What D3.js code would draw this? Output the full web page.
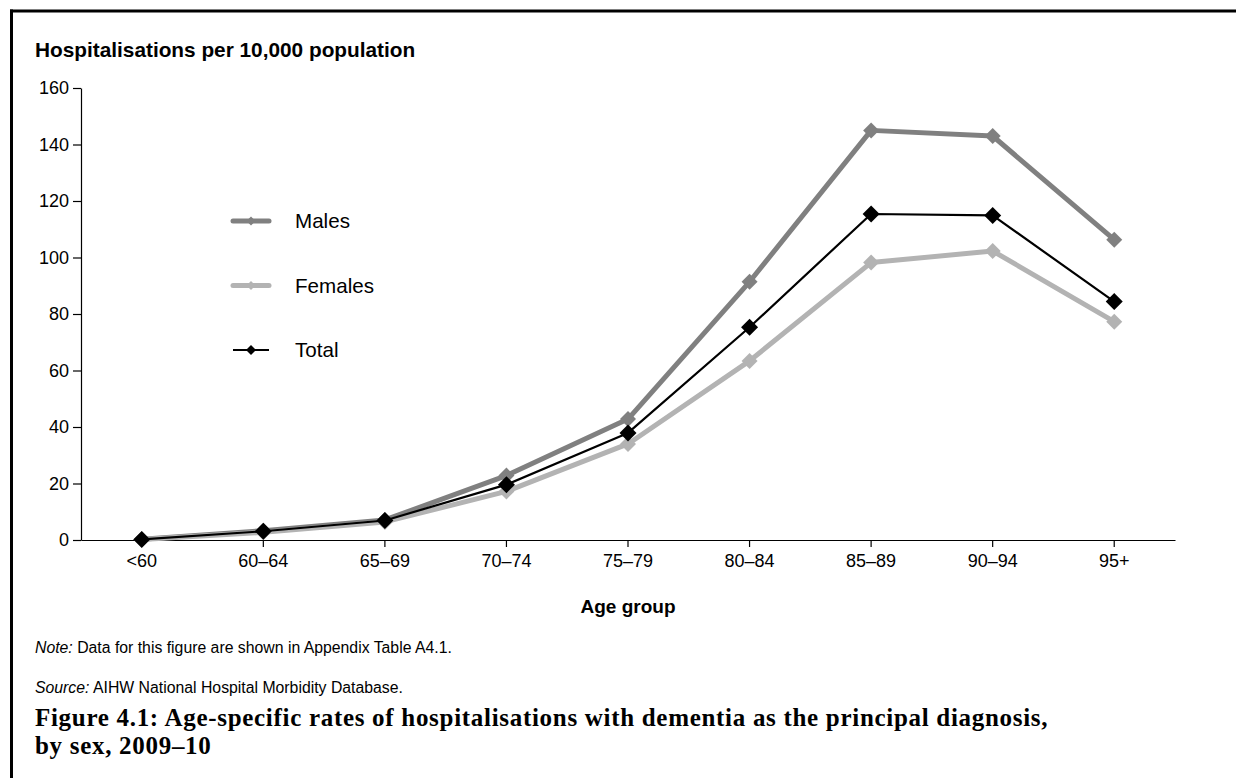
<!DOCTYPE html>
<html>
<head>
<meta charset="utf-8">
<script src="https://cdn.jsdelivr.net/npm/d3@7"></script>
<style>
  html, body { margin: 0; padding: 0; background: #fff; overflow: hidden; width: 1236px; height: 778px; }
  svg { display: block; }
  text { font-family: "Liberation Sans", Arial, sans-serif; fill: #000; }
</style>
</head>
<body>
<div id="chart"></div>
<script>
// age groups and rates per 10,000 population
var ageGroups = ["<60", "60\u201364", "65\u201369", "70\u201374", "75\u201379", "80\u201384", "85\u201389", "90\u201394", "95+"];
var males   = [0.3, 3.3, 7.1, 22.8, 42.8, 91.4, 145.0, 143.0, 106.3];
var females = [0.2, 2.7, 6.4, 17.2, 34.0, 63.4, 98.2, 102.3, 77.3];
var total   = [0.2, 3.1, 6.9, 19.6, 37.9, 75.3, 115.4, 114.9, 84.4];
var yTicks  = [0, 20, 40, 60, 80, 100, 120, 140, 160];

var seriesList = [
  {name: "Males",   values: males,   color: "#808080", width: 5,   marker: 8},
  {name: "Females", values: females, color: "#b3b3b3", width: 5,   marker: 8},
  {name: "Total",   values: total,   color: "#000000", width: 2.2, marker: 8.5}
];

var svgWidth = 1236;
var svgHeight = 778;

var margin = {top: 88, right: 61, bottom: 238, left: 81};
var width = svgWidth - margin.left - margin.right;
var height = svgHeight - margin.top - margin.bottom;

var svg = d3.select("#chart")
  .append("svg")
  .attr("width", svgWidth)
  .attr("height", svgHeight);

// frame round the figure (only left and top edges fall inside the page)
svg.append("line")
  .attr("x1", 11.5).attr("x2", 11.5)
  .attr("y1", 9.5).attr("y2", svgHeight)
  .attr("stroke", "#000")
  .attr("stroke-width", 3);
svg.append("line")
  .attr("x1", 10).attr("x2", svgWidth + 10)
  .attr("y1", 11).attr("y2", 11)
  .attr("stroke", "#000")
  .attr("stroke-width", 3);

var chartGroup = svg.append("g")
  .attr("transform", `translate(${margin.left}, ${margin.top})`);

var xScale = d3.scaleBand()
  .domain(ageGroups)
  .range([0, width]);

var yScale = d3.scaleLinear()
  .domain([0, 160])
  .range([height, 0]);

// y axis
var yAxis = chartGroup.append("g")
  .call(d3.axisLeft(yScale).tickValues(yTicks).tickSize(8).tickSizeOuter(0).tickPadding(4));
yAxis.select(".domain").attr("stroke", "#000").attr("stroke-width", 1.2);
yAxis.selectAll(".tick line").attr("stroke", "#000").attr("stroke-width", 1.2);
yAxis.selectAll(".tick text")
  .attr("font-size", "18px")
  .attr("font-family", "Liberation Sans, Arial, sans-serif")
  .attr("fill", "#000");

// x axis
var xAxis = chartGroup.append("g")
  .attr("transform", `translate(0, ${height})`)
  .call(d3.axisBottom(xScale).tickSize(7).tickSizeOuter(0).tickPadding(7));
xAxis.select(".domain").attr("stroke", "#000").attr("stroke-width", 1.2);
xAxis.selectAll(".tick line").attr("stroke", "#000").attr("stroke-width", 1.2);
xAxis.selectAll(".tick text")
  .attr("font-size", "18px")
  .attr("font-family", "Liberation Sans, Arial, sans-serif")
  .attr("fill", "#000");

// axis titles
svg.append("text")
  .attr("x", 35)
  .attr("y", 57)
  .attr("font-size", "20.8px")
  .attr("font-weight", "bold")
  .text("Hospitalisations per 10,000 population");

chartGroup.append("text")
  .attr("x", width / 2)
  .attr("y", height + 73)
  .attr("text-anchor", "middle")
  .attr("font-size", "19px")
  .attr("font-weight", "bold")
  .text("Age group");

// lines and diamonds
var line = d3.line()
  .x((d, i) => xScale(ageGroups[i]) + xScale.bandwidth() / 2)
  .y(d => yScale(d));

function diamond(r) {
  return `M0,${-r} L${r},0 L0,${r} L${-r},0 Z`;
}

seriesList.forEach(function(s) {
  var g = chartGroup.append("g");
  g.append("path")
    .datum(s.values)
    .attr("d", line)
    .attr("fill", "none")
    .attr("stroke", s.color)
    .attr("stroke-width", s.width)
    .attr("stroke-linejoin", "round");
  g.selectAll("path.mark")
    .data(s.values)
    .enter()
    .append("path")
    .attr("class", "mark")
    .attr("d", diamond(s.marker))
    .attr("fill", s.color)
    .attr("transform", (d, i) => `translate(${xScale(ageGroups[i]) + xScale.bandwidth() / 2}, ${yScale(d)})`);
});

// legend
var legend = svg.append("g").attr("transform", "translate(233, 221)");
seriesList.forEach(function(s, i) {
  var row = legend.append("g").attr("transform", `translate(0, ${i * 64.5})`);
  row.append("line")
    .attr("x1", 0).attr("x2", 36)
    .attr("stroke", s.color)
    .attr("stroke-width", s.width)
    .attr("stroke-linecap", s.name === "Total" ? "butt" : "round");
  row.append("path")
    .attr("d", diamond(s.name === "Total" ? 5 : 4.5))
    .attr("transform", "translate(18, 0)")
    .attr("fill", s.color);
  row.append("text")
    .attr("x", 62)
    .attr("y", 7)
    .attr("font-size", "20.6px")
    .text(s.name);
});

// notes
var note = svg.append("text").attr("x", 35).attr("y", 653).attr("font-size", "15.8px");
note.append("tspan").attr("font-style", "italic").text("Note:");
note.append("tspan").text(" Data for this figure are shown in Appendix Table A4.1.");

var source = svg.append("text").attr("x", 35).attr("y", 693).attr("font-size", "15.8px");
source.append("tspan").attr("font-style", "italic").text("Source:");
source.append("tspan").text(" AIHW National Hospital Morbidity Database.");

// figure caption
var caption = ["Figure 4.1: Age-specific rates of hospitalisations with dementia as the principal diagnosis,",
  "by sex, 2009\u201310"];
caption.forEach(function(c, i) {
  svg.append("text")
    .attr("x", 35)
    .attr("y", 726 + i * 28)
    .attr("font-size", "25px")
    .attr("font-weight", "bold")
    .attr("letter-spacing", "0.7px")
    .style("font-family", "'Liberation Serif', 'Times New Roman', serif")
    .text(c);
});
</script>
</body>
</html>
